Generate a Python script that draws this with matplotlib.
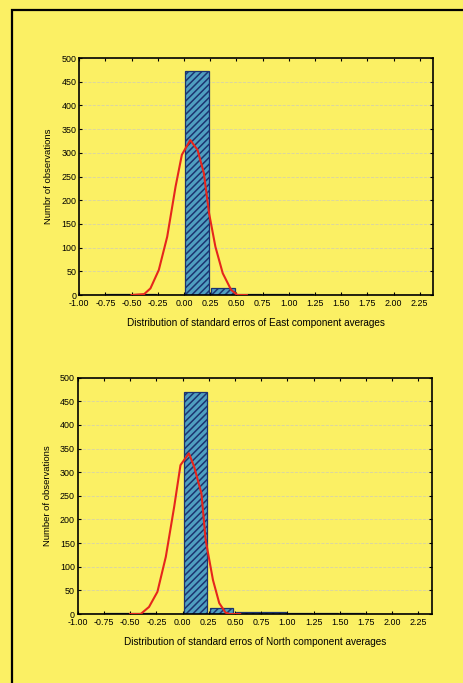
import matplotlib
matplotlib.use("Agg")
import matplotlib.pyplot as plt
from matplotlib.patches import Rectangle

# histogram bins (left edges, width 0.25)
bin_edges = [-1.00, -0.75, -0.50, -0.25, 0.00, 0.25, 0.50, 0.75, 1.00, 1.25, 1.50, 1.75, 2.00]
east_counts = [0, 2, 2, 1, 472, 15, 3, 2, 2, 1, 1, 1, 1]
north_counts = [0, 2, 2, 1, 470, 12, 5, 5, 2, 2, 2, 0, 0]

# fitted normal curves
east_fit_x = [-0.50, -0.38, -0.32, -0.24, -0.16, -0.08, -0.02, 0.06, 0.13, 0.19, 0.24, 0.30, 0.37, 0.45, 0.51, 0.60]
east_fit_y = [0, 2, 14, 53, 123, 229, 296, 327, 306, 257, 172, 102, 46, 11, 0, 0]
north_fit_x = [-0.50, -0.40, -0.32, -0.24, -0.16, -0.08, -0.02, 0.06, 0.11, 0.18, 0.22, 0.29, 0.35, 0.41, 0.45, 0.55]
north_fit_y = [0, 0, 15, 47, 121, 227, 315, 340, 312, 255, 157, 72, 23, 3, 0, 0]

x_ticks = [-1.00, -0.75, -0.50, -0.25, 0.00, 0.25, 0.50, 0.75, 1.00, 1.25, 1.50, 1.75, 2.00, 2.25]
y_ticks = list(range(0, 501, 50))

YELLOW = '#fbf064'
NAVY = '#1c3470'
FILL = '#4f9fc0'
RED = '#e5261c'

plt.rcParams['font.family'] = ['Liberation Sans', 'DejaVu Sans']
plt.rcParams['hatch.color'] = NAVY
plt.rcParams['hatch.linewidth'] = 1.1

fig = plt.figure(figsize=(4.63, 6.83), dpi=100)
fig.patch.set_facecolor(YELLOW)

# page frame (only left and top edges visible in the scan)
fig.patches.append(Rectangle((12 / 463, -0.1), 1.2, 1.1 - 10 / 683,
                             transform=fig.transFigure, fill=False,
                             edgecolor='black', linewidth=1.6))


def draw_panel(rect, counts, fit_x, fit_y, ylabel, xlabel):
    ax = fig.add_axes(rect)
    ax.set_facecolor(YELLOW)
    ax.bar([e + 0.01 for e in bin_edges], counts, width=0.225, align='edge',
           color=FILL, edgecolor=NAVY, hatch='/////', linewidth=0.9, zorder=2)
    ax.plot(fit_x, fit_y, color=RED, linewidth=1.5, zorder=3)
    ax.set_xlim(-1.0, 2.38)
    ax.set_ylim(0, 500)
    ax.set_xticks(x_ticks)
    ax.set_xticklabels(['%.2f' % t for t in x_ticks])
    ax.set_yticks(y_ticks)
    ax.yaxis.grid(True, color='#d6d3a8', linestyle='--', linewidth=0.6)
    ax.set_axisbelow(True)
    ax.tick_params(direction='in', top=True, right=True, labelsize=6.4,
                   length=2.5, width=0.8)
    ax.tick_params(axis='x', pad=3)
    ax.tick_params(axis='y', pad=2)
    for s in ax.spines.values():
        s.set_linewidth(1.2)
    ax.set_ylabel(ylabel, fontsize=6.8, labelpad=6)
    ax.set_xlabel(xlabel, fontsize=7.2, labelpad=7)
    return ax


draw_panel([0.171, 0.568, 0.765, 0.347], east_counts, east_fit_x, east_fit_y,
           'Numbr of observations',
           'Distribution of standard erros of East component averages')
draw_panel([0.168, 0.101, 0.765, 0.346], north_counts, north_fit_x, north_fit_y,
           'Number of observations',
           'Distribution of standard erros of North component averages')

fig.savefig('out.png', dpi=100, facecolor=YELLOW)
